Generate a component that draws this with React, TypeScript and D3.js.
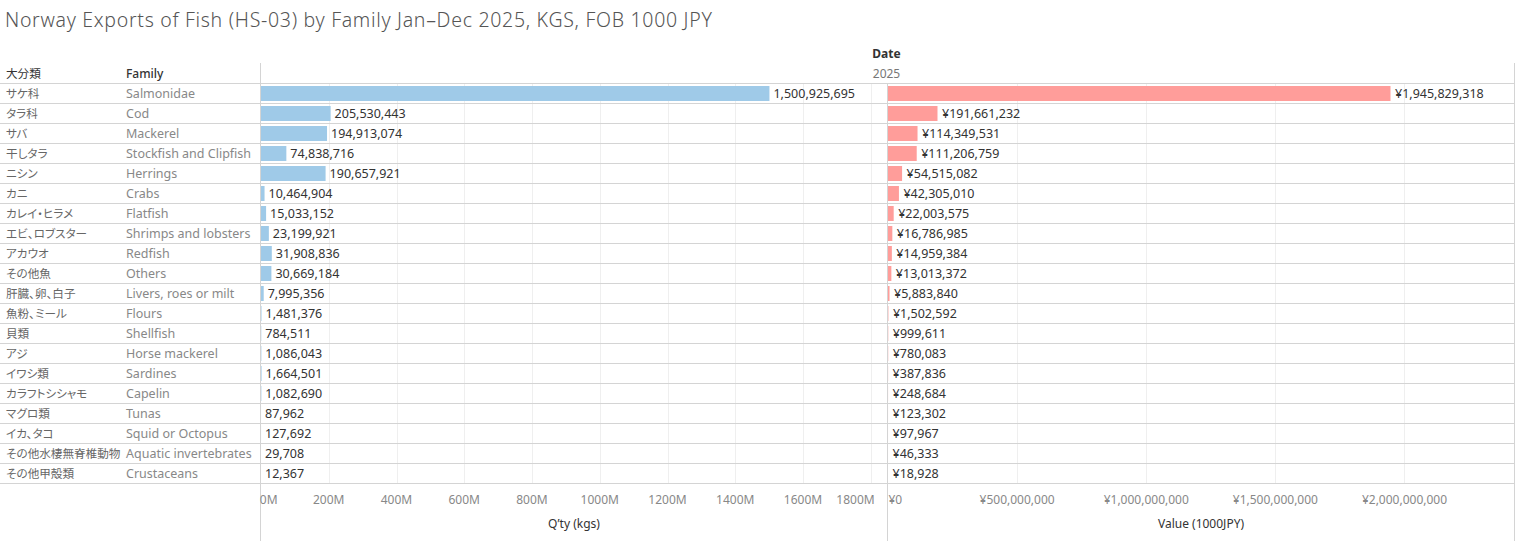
import * as React from 'react';
import { scaleLinear, scaleBand, format } from 'd3';

const familiesJp = ['サケ科', 'タラ科', 'サバ', '干しタラ', 'ニシン', 'カニ', 'カレイ・ヒラメ', 'エビ、ロブスター', 'アカウオ', 'その他魚', '肝臓、卵、白子', '魚粉、ミール', '貝類', 'アジ', 'イワシ類', 'カラフトシシャモ', 'マグロ類', 'イカ、タコ', 'その他水棲無脊椎動物', 'その他甲殻類'];
const familiesEn = ['Salmonidae', 'Cod', 'Mackerel', 'Stockfish and Clipfish', 'Herrings', 'Crabs', 'Flatfish', 'Shrimps and lobsters', 'Redfish', 'Others', 'Livers, roes or milt', 'Flours', 'Shellfish', 'Horse mackerel', 'Sardines', 'Capelin', 'Tunas', 'Squid or Octopus', 'Aquatic invertebrates', 'Crustaceans'];
const qtyKgs = [1500925695, 205530443, 194913074, 74838716, 190657921, 10464904, 15033152, 23199921, 31908836, 30669184, 7995356, 1481376, 784511, 1086043, 1664501, 1082690, 87962, 127692, 29708, 12367];
const valueJpy = [1945829318, 191661232, 114349531, 111206759, 54515082, 42305010, 22003575, 16786985, 14959384, 13013372, 5883840, 1502592, 999611, 780083, 387836, 248684, 123302, 97967, 46333, 18928];
const qtyTicks = [0, 200e6, 400e6, 600e6, 800e6, 1000e6, 1200e6, 1400e6, 1600e6, 1800e6];
const valueTicks = [0, 500e6, 1000e6, 1500e6, 2000e6];

const W = 1516;
const H = 541;
const FONT = '"Noto Sans", "Noto Sans CJK JP", sans-serif';
const JP_FONT = '"Noto Sans CJK JP", sans-serif';
const grid = '#d4d4d4';
const faint = '#efefef';

const comma = format(',');

const App = () => {
    const rowTop = 83.5;
    const rowH = 20;
    const leftX = 260.5;
    const midX = 887.5;
    const rightX = 1514.5;
    const rowsBottom = rowTop + rowH * familiesEn.length;

    const y = scaleBand<string>().domain(familiesEn).range([rowTop, rowsBottom]).paddingInner(0.25).paddingOuter(0.125);
    const xQty = scaleLinear().domain([0, 1845e6]).range([leftX + 0.5, midX - 1.5]);
    const xVal = scaleLinear().domain([0, 2426e6]).range([midX + 0.5, rightX]);

    const tickLabelX = (x: number, lo: number, hi: number, half: number) => Math.min(Math.max(x, lo + half), hi - half);
    const jpStyle = { fontFamily: JP_FONT, fontFeatureSettings: '"palt"' } as React.CSSProperties;

    return (
        <div style={{ position: 'absolute', left: 0, top: 0 }}>
            <svg width={W} height={H} style={{ display: 'block', fontFamily: FONT }}>
                <rect width={W} height={H} fill="#fff" />
                <text x={5} y={27} fontSize={19.5} fill="#555" fontWeight={300} letterSpacing={0.7}>Norway Exports of Fish (HS-03) by Family Jan–Dec 2025, KGS, FOB 1000 JPY</text>

                <text x={midX - 1} y={58} fontSize={12} fontWeight={700} fill="#333" textAnchor="middle">Date</text>
                <text x={midX - 1} y={78} fontSize={12} fill="#777" textAnchor="middle">2025</text>
                <text x={6} y={78} fontSize={11.6} fill="#333" style={jpStyle}>大分類</text>
                <text x={126} y={78} fontSize={12} fill="#333" fontWeight={500}>Family</text>

                {/* gridlines */}
                {qtyTicks.slice(1).map(t => (
                    <line key={'gq' + t} x1={Math.round(xQty(t)) + 0.5} x2={Math.round(xQty(t)) + 0.5} y1={rowTop} y2={rowsBottom} stroke={faint} />
                ))}
                {valueTicks.slice(1).map(t => (
                    <line key={'gv' + t} x1={Math.round(xVal(t)) + 0.5} x2={Math.round(xVal(t)) + 0.5} y1={rowTop} y2={rowsBottom} stroke={faint} />
                ))}

                {/* row lines */}
                {familiesEn.map((f, i) => (
                    <line key={'r' + f} x1={0} x2={rightX} y1={rowTop + rowH * i} y2={rowTop + rowH * i} stroke={grid} />
                ))}
                <line x1={0} x2={rightX} y1={rowsBottom} y2={rowsBottom} stroke={grid} />

                {/* separators */}
                <line x1={leftX} x2={leftX} y1={63} y2={H} stroke={grid} />
                <line x1={midX} x2={midX} y1={rowTop} y2={H} stroke={grid} />
                <line x1={rightX} x2={rightX} y1={63} y2={H} stroke={grid} />

                {familiesEn.map((f, i) => {
                    const by = y(f)!;
                    const cy = rowTop + rowH * i + rowH / 2 + 4.5;
                    const qx = xQty(qtyKgs[i]);
                    const vx = xVal(valueJpy[i]);
                    return (
                        <g key={f}>
                            <text x={6} y={cy} fontSize={11.6} fill="#666" style={jpStyle}>{familiesJp[i]}</text>
                            <text x={126} y={cy} fontSize={12.5} fill="#888">{f}</text>
                            <rect x={xQty(0)} y={by} width={qx - xQty(0)} height={y.bandwidth()} fill="#9fcae8" />
                            <text x={qx + 4} y={cy} fontSize={12.5} fill="#333">{comma(qtyKgs[i])}</text>
                            <rect x={xVal(0)} y={by} width={vx - xVal(0)} height={y.bandwidth()} fill="#ff9d9a" />
                            <text x={vx + 4.5} y={cy} fontSize={12.5} fill="#333">{'¥' + comma(valueJpy[i])}</text>
                        </g>
                    );
                })}

                {/* axes */}
                {qtyTicks.map(t => {
                    const label = `${t / 1e6}M`;
                    const half = label.length * 3.6;
                    return (
                        <text key={'tq' + t} x={tickLabelX(xQty(t), leftX + 1, midX - 14, half)} y={504} fontSize={12} fill="#888" textAnchor="middle">{label}</text>
                    );
                })}
                {valueTicks.map(t => {
                    const label = '¥' + comma(t);
                    const half = label.length * 3.4;
                    return (
                        <text key={'tv' + t} x={tickLabelX(xVal(t), midX + 1, rightX, half)} y={504} fontSize={12} fill="#888" textAnchor="middle">{label}</text>
                    );
                })}
                <text x={(leftX + midX) / 2} y={528} fontSize={12} fill="#333" textAnchor="middle">Q’ty (kgs)</text>
                <text x={(midX + rightX) / 2} y={528} fontSize={12} fill="#333" textAnchor="middle">Value (1000JPY)</text>
            </svg>
        </div>
    );
};

export default App;
